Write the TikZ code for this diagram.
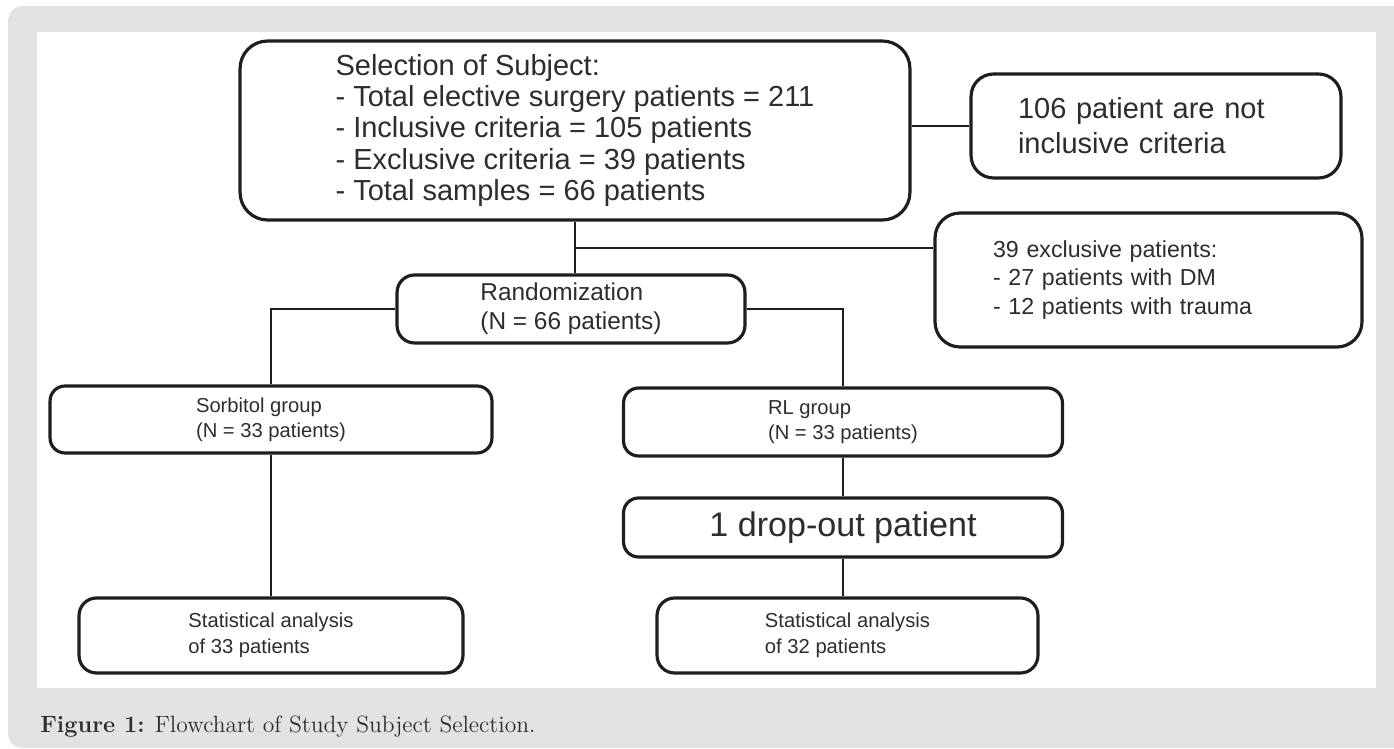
\documentclass[tikz,border=0pt]{standalone}
\usepackage{fontspec}
\setsansfont{Liberation Sans}
\definecolor{bggray}{RGB}{226,226,226}
\definecolor{linegray}{RGB}{30,30,30}
\definecolor{textgray}{RGB}{45,45,45}
\begin{document}
\begin{tikzpicture}[x=0.02cm, y=-0.02cm,
	box/.style={draw=linegray, text=textgray, line width=1.8pt, rounded corners=0.35cm, fill=white, align=left, inner sep=0pt},
	link/.style={draw=linegray, line width=1.6pt}]
	\useasboundingbox (0,0) rectangle (1394,749);
	\fill[bggray, rounded corners=0.3cm] (8,6) rectangle (1430,748);
	\fill[white] (37,32) rectangle (1376,688);

	\node[box, rounded corners=0.55cm, minimum width=13.4cm, minimum height=3.58cm, font=\sffamily\fontsize{16.5}{17.9}\selectfont] (sel) at (575,130.5) {Selection of Subject:\\- Total elective surgery patients = 211\\- Inclusive criteria = 105 patients\\- Exclusive criteria = 39 patients\\- Total samples = 66 patients};
	\node[box, rounded corners=0.45cm, minimum width=7.4cm, minimum height=2.08cm, text width=5.52cm, inner xsep=0.94cm, font=\sffamily\fontsize{16.5}{19.8}\selectfont] (notincl) at (1156,126) {106 patient are not\\inclusive criteria};
	\node[box, rounded corners=0.5cm, minimum width=8.54cm, minimum height=2.68cm, text width=6.22cm, inner xsep=1.16cm, font=\sffamily\fontsize{13.2}{16.2}\selectfont] (excl) at (1148.5,280) {39 exclusive patients:\\- 27 patients with DM\\- 12 patients with trauma};
	\node[box, minimum width=6.96cm, minimum height=1.36cm, font=\sffamily\fontsize{13.9}{16.4}\selectfont] (rand) at (571,309) {Randomization\\(N = 66 patients)};
	\node[box, rounded corners=0.3cm, minimum width=8.84cm, minimum height=1.34cm, font=\sffamily\fontsize{11.5}{14.2}\selectfont] (sorb) at (271,419.5) {Sorbitol group\\(N = 33 patients)};
	\node[box, rounded corners=0.3cm, minimum width=8.78cm, minimum height=1.36cm, font=\sffamily\fontsize{11.5}{14.2}\selectfont] (rl) at (843,422) {RL group\\(N = 33 patients)};
	\node[box, rounded corners=0.3cm, minimum width=8.78cm, minimum height=1.18cm, font=\sffamily\fontsize{19.4}{22}\selectfont] (drop) at (843,527.5) {1 drop-out patient};
	\node[box, minimum width=7.68cm, minimum height=1.5cm, font=\sffamily\fontsize{11.5}{14.7}\selectfont] (statsorb) at (271,635.5) {Statistical analysis\\of 33 patients};
	\node[box, minimum width=7.62cm, minimum height=1.5cm, font=\sffamily\fontsize{11.5}{14.7}\selectfont] (statrl) at (847.5,635.5) {Statistical analysis\\of 32 patients};

	\coordinate (split) at (575,248);
	\draw[link] (sel.east |- notincl.west) -- (notincl.west);
	\draw[link] (sel.south) -- (sel.south |- rand.north);
	\draw[link] (split) -- (split -| excl.west);
	\draw[link] (rand.west) -| (sorb.north);
	\draw[link] (rand.east) -| (rl.north);
	\draw[link] (sorb.south) -- (statsorb.north);
	\draw[link] (rl.south) -- (drop.north);
	\draw[link] (drop.south) -- (drop.south |- statrl.north);

	\node[anchor=west, inner sep=0pt, text=textgray, font=\fontsize{13.4}{16}\selectfont] (caption) at (40,727) {\textbf{Figure 1:} Flowchart of Study Subject Selection.};
\end{tikzpicture}
\end{document}
